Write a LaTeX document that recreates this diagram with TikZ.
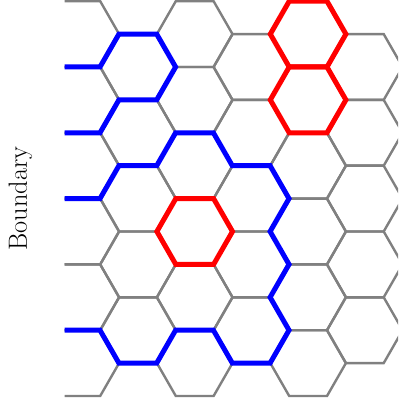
\documentclass[tikz,border=0pt]{standalone}
\begin{document}
\begin{tikzpicture}[x=1pt,y=-1pt,
  lattice/.style={draw=gray, line width=2.4pt},
  bluepath/.style={draw=blue, line width=5pt},
  redhex/.style={draw=red, line width=5pt},
  hex/.style={}]
\useasboundingbox (0,0) rectangle (398,403);
% grey honeycomb
\begin{scope}
\clip (64.5,-10) rectangle (398,413);
\foreach \cx in {81.3,194.7,308.1}{
  \foreach \m in {0,...,5}{
    \pgfmathsetmacro\cy{34.1+65.8*\m}
    \draw[lattice] (\cx-37.8,\cy) -- (\cx-18.9,\cy-32.9) -- (\cx+18.9,\cy-32.9) -- (\cx+37.8,\cy) -- (\cx+18.9,\cy+32.9) -- (\cx-18.9,\cy+32.9) -- cycle;
  }
}
\foreach \cx in {138,251.4,364.8}{
  \foreach \m in {0,...,4}{
    \pgfmathsetmacro\cy{67+65.8*\m}
    \draw[lattice] (\cx-37.8,\cy) -- (\cx-18.9,\cy-32.9) -- (\cx+18.9,\cy-32.9) -- (\cx+37.8,\cy) -- (\cx+18.9,\cy+32.9) -- (\cx-18.9,\cy+32.9) -- cycle;
  }
}
\end{scope}
% red hexagons
\foreach \cx/\cy in {308.1/34.1, 308.1/99.9, 194.7/231.5}{
  \draw[redhex] (\cx-37.8,\cy) -- (\cx-18.9,\cy-32.9) -- (\cx+18.9,\cy-32.9) -- (\cx+37.8,\cy) -- (\cx+18.9,\cy+32.9) -- (\cx-18.9,\cy+32.9) -- cycle;
}
% blue paths
\draw[bluepath] (64.5,67) -- (100,67) -- (118.9,34.1) -- (156.7,34.1) -- (175.6,67) -- (156.7,99.9) -- (118.9,99.9) -- (100,132.8) -- (64.5,132.8);
\draw[bluepath] (64.5,198.6) -- (100,198.6) -- (118.9,165.7) -- (156.7,165.7) -- (175.6,132.8) -- (213.4,132.8) -- (232.3,165.7) -- (270.1,165.7) -- (289,198.6) -- (270.1,231.5) -- (289,264.4) -- (270.1,297.3) -- (289,330.2) -- (270.1,363.1) -- (232.3,363.1) -- (213.4,330.2) -- (175.6,330.2) -- (156.7,363.1) -- (118.9,363.1) -- (100,330.2) -- (64.5,330.2);
% label
\node[rotate=90, inner sep=0pt, font=\fontsize{26.3}{30}\selectfont] (boundary) at (20.4,198.5) {Boundary};
\end{tikzpicture}
\end{document}
